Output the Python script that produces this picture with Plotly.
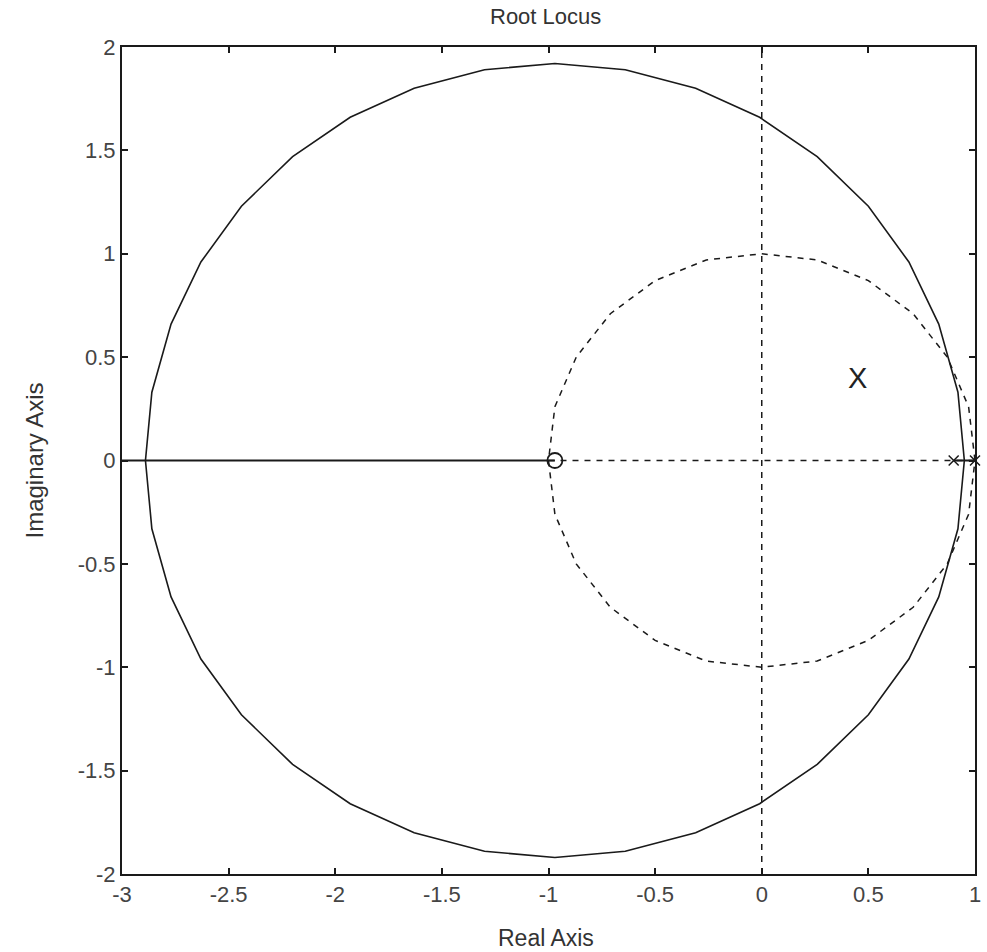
import plotly.graph_objects as go

# Root locus branch (complex part), upper then lower half
locus_x = [0.95, 0.92, 0.83, 0.69, 0.50, 0.26, -0.01, -0.31, -0.64, -0.97, -1.30, -1.63, -1.93,
           -2.20, -2.44, -2.63, -2.77, -2.86, -2.89,
           -2.86, -2.77, -2.63, -2.44, -2.20, -1.93, -1.63, -1.30, -0.97, -0.64, -0.31, -0.01,
           0.26, 0.50, 0.69, 0.83, 0.92, 0.95]
locus_y = [0.00, 0.33, 0.66, 0.96, 1.23, 1.47, 1.66, 1.80, 1.89, 1.92, 1.89, 1.80, 1.66,
           1.47, 1.23, 0.96, 0.66, 0.33, 0.00,
           -0.33, -0.66, -0.96, -1.23, -1.47, -1.66, -1.80, -1.89, -1.92, -1.89, -1.80, -1.66,
           -1.47, -1.23, -0.96, -0.66, -0.33, 0.00]

# Real-axis segments of the locus
real_seg1_x = [-3.0, -0.97]
real_seg2_x = [0.90, 1.00]

# Unit circle (dashed)
unit_x = [1.00, 0.97, 0.87, 0.71, 0.50, 0.26, 0.00, -0.26, -0.50, -0.71, -0.87, -0.97, -1.00,
          -0.97, -0.87, -0.71, -0.50, -0.26, 0.00, 0.26, 0.50, 0.71, 0.87, 0.97, 1.00]
unit_y = [0.00, 0.26, 0.50, 0.71, 0.87, 0.97, 1.00, 0.97, 0.87, 0.71, 0.50, 0.26, 0.00,
          -0.26, -0.50, -0.71, -0.87, -0.97, -1.00, -0.97, -0.87, -0.71, -0.50, -0.26, 0.00]

poles_x = [0.90, 1.00]
zeros_x = [-0.97]

x_ticks = [-3, -2.5, -2, -1.5, -1, -0.5, 0, 0.5, 1]
y_ticks = [-2, -1.5, -1, -0.5, 0, 0.5, 1, 1.5, 2]

black = "#1a1a1a"
font_family = "Liberation Sans, Arial, sans-serif"
dash_style = dict(color=black, width=1.5, dash="6px,6px")

fig = go.Figure()
fig.add_trace(go.Scatter(x=unit_x, y=unit_y, mode="lines", line=dash_style))
fig.add_trace(go.Scatter(x=[0, 0], y=[-2, 2], mode="lines", line=dash_style))
fig.add_trace(go.Scatter(x=[-1, 1], y=[0, 0], mode="lines", line=dash_style))
fig.add_trace(go.Scatter(x=locus_x, y=locus_y, mode="lines", line=dict(color=black, width=1.6)))
fig.add_trace(go.Scatter(x=real_seg1_x, y=[0, 0], mode="lines", line=dict(color=black, width=2)))
fig.add_trace(go.Scatter(x=real_seg2_x, y=[0, 0], mode="lines", line=dict(color=black, width=2)))
fig.add_trace(go.Scatter(x=poles_x, y=[0] * len(poles_x), mode="markers", cliponaxis=False,
                         marker=dict(symbol="x-thin", size=10, color=black,
                                     line=dict(color=black, width=1.5))))
fig.add_trace(go.Scatter(x=zeros_x, y=[0] * len(zeros_x), mode="markers",
                         marker=dict(symbol="circle-open", size=15, color=black,
                                     line=dict(color=black, width=1.8))))

# Plain "X" label inside the plot
fig.add_annotation(x=0.45, y=0.4, text="X", showarrow=False,
                   font=dict(family=font_family, size=29, color="#222"))

# Title and axis titles
fig.add_annotation(xref="paper", yref="paper", x=0.5, y=1, yshift=31, xshift=-3,
                   text="Root Locus", showarrow=False, yanchor="middle",
                   font=dict(family=font_family, size=22, color="#333"))
fig.add_annotation(xref="paper", yref="paper", x=0.5, y=0, yshift=-64, xshift=-3,
                   text="Real Axis", showarrow=False, yanchor="middle",
                   font=dict(family=font_family, size=23, color="#333"))
fig.add_annotation(xref="paper", yref="paper", x=0, y=0.5, xshift=-88, textangle=-90,
                   text="Imaginary Axis", showarrow=False, xanchor="center",
                   font=dict(family=font_family, size=24, color="#333"))

axis_common = dict(showgrid=False, zeroline=False, showline=True, linecolor=black, linewidth=2,
                   mirror="ticks", ticks="inside", ticklen=6, tickwidth=1.5, tickcolor=black,
                   automargin=False,
                   tickfont=dict(family=font_family, size=22, color="#444"))

fig.update_layout(
    width=987, height=952,
    margin=dict(l=122, r=12, t=47, b=78),
    paper_bgcolor="white", plot_bgcolor="white",
    showlegend=False,
    xaxis=dict(range=[-3, 1], tickvals=x_ticks, ticktext=[f"{v:g}" for v in x_ticks],
               **axis_common),
    yaxis=dict(range=[-2, 2], tickvals=y_ticks, ticktext=[f"{v:g}" for v in y_ticks],
               **axis_common),
)

# Remove the default page margin so the figure fills the 987x952 window exactly
fig.write_html("out.html",
               config={"displayModeBar": False},
               post_script="document.body.style.margin='0';document.body.style.overflow='hidden';")
